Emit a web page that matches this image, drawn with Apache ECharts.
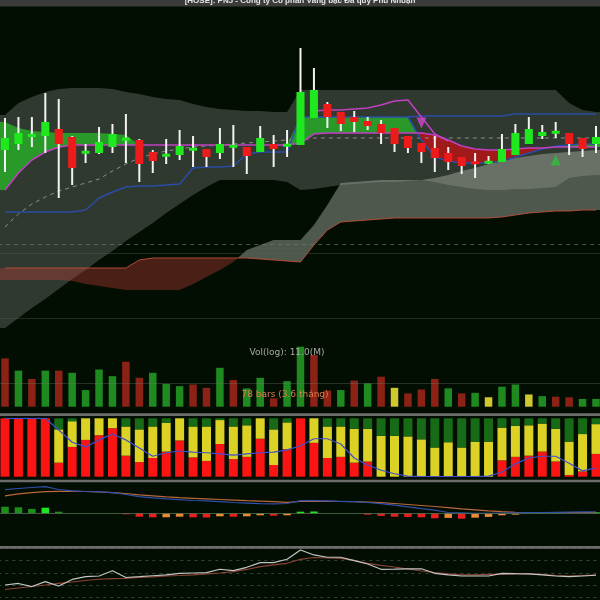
<!DOCTYPE html>
<html>
<head>
<meta charset="utf-8">
<script src="https://cdn.jsdelivr.net/npm/echarts@6/dist/echarts.min.js"></script>
<style>
html, body { margin: 0; padding: 0; background: #030e03; }
#chart { width: 600px; height: 600px; }
</style>
</head>
<body>
<div id="chart"></div>
<script>
// ---- data (price in thousand VND, volume in M) ----
const categories = Array.from({ length: 45 }, (_, i) => 'P' + (i + 1));

const openP  = [82.8, 83.52, 84.36, 84.48, 85.32, 84.36, 82.5, 82.44, 83.16, 84.06, 84, 82.56, 82.14, 82.2, 82.86, 82.92, 82.44, 83.22, 83.16, 82.56, 83.52, 83.34, 83.4, 86.64, 88.32, 87.36, 86.76, 86.28, 85.92, 85.44, 84.48, 83.64, 83.04, 82.44, 81.96, 81.3, 81.3, 81.36, 82.2, 83.52, 84.48, 84.9, 84.84, 84.24, 83.52];
const closeP = [84.24, 84.84, 84.72, 86.16, 83.52, 80.64, 82.56, 83.76, 84.72, 84.12, 81.12, 81.48, 82.2, 83.28, 82.92, 81.96, 83.52, 83.28, 82.08, 84.24, 82.92, 83.4, 89.76, 90, 86.76, 85.92, 86.16, 85.68, 84.84, 83.52, 83.04, 82.56, 81.84, 81.36, 80.88, 81.24, 81.36, 82.92, 84.84, 85.32, 84.96, 84.96, 83.52, 82.92, 84.36];
const lowP   = [80.16, 82.8, 83.16, 82.44, 77.04, 78.6, 81.24, 82.32, 82.44, 81.24, 78.96, 80.04, 81.12, 81.6, 80.76, 80.76, 81.72, 80.76, 79.92, 82.56, 80.76, 81.96, 83.4, 86.64, 85.44, 85.08, 84.96, 85.2, 83.52, 82.56, 82.44, 81.24, 80.16, 80.4, 79.92, 79.44, 81.12, 81.36, 82.2, 83.52, 84.12, 84.24, 82.2, 81.96, 82.44];
const highP  = [86.64, 86.76, 86.76, 89.64, 88.92, 84.48, 83.52, 85.56, 85.92, 87.12, 84.12, 82.8, 84.12, 85.2, 84.48, 82.92, 85.44, 85.8, 83.16, 85.68, 84.6, 85.2, 95.04, 92.64, 88.56, 87.36, 87.48, 86.76, 86.4, 85.44, 84.48, 83.64, 84.48, 83.16, 81.96, 82.44, 82.08, 84.72, 85.92, 86.76, 85.8, 86.16, 84.84, 84.24, 85.68];

// bollinger band
const bbUpper = [87, 88.44, 89.16, 89.76, 90.12, 90.24, 90.24, 90.24, 90.12, 89.76, 89.52, 89.16, 88.92, 88.8, 88.32, 87.96, 87.72, 87.6, 87.48, 87.48, 87.36, 87.36, 90, 90, 90, 90, 90, 90, 90, 90, 90, 90, 90, 90, 90, 90, 90, 90, 90, 90, 90, 90, 88.44, 87.6, 87.36];
const bbLower = [61.44, 62.64, 63.84, 64.92, 66.12, 67.32, 68.4, 69.6, 70.68, 71.88, 72.96, 74.04, 75.24, 76.32, 77.4, 78.36, 79.2, 79.2, 79.2, 79.2, 79.2, 78.96, 78, 78.12, 78.36, 78.6, 78.72, 78.84, 78.96, 78.96, 79.08, 79.2, 78.96, 78.6, 78.36, 78.12, 78, 78, 78.12, 78.12, 78.24, 78.36, 79.44, 79.68, 79.8];

// ichimoku cloud
const spanA = [67.2, 67.2, 67.2, 67.2, 67.2, 67.08, 66.72, 66.48, 66.24, 66, 66, 66, 66, 66, 66.72, 67.56, 68.4, 69.36, 70.8, 71.4, 72, 72, 72, 73.8, 76.2, 78.84, 78.96, 79.08, 79.2, 79.2, 79.2, 79.2, 79.44, 79.8, 80.28, 80.64, 81.12, 81.48, 81.84, 82.08, 82.32, 82.44, 82.56, 82.68, 82.8];
const spanB = [68.64, 68.64, 68.64, 68.64, 68.64, 68.64, 68.64, 68.64, 68.64, 68.64, 69.6, 69.84, 69.84, 69.84, 69.84, 69.84, 69.84, 69.84, 69.84, 69.72, 69.6, 69.48, 69.36, 71.4, 73.2, 74.16, 74.28, 74.4, 74.52, 74.64, 74.64, 74.64, 74.64, 74.64, 74.64, 74.64, 74.64, 74.76, 75, 75.24, 75.36, 75.48, 75.48, 75.6, 75.6];

// fast / slow lines
const fastLine = [86.16, 85.44, 85.08, 84.96, 84.84, 84.84, 84.84, 84.84, 84.72, 84.6, 83.4, 83.4, 83.4, 83.4, 83.4, 83.4, 83.4, 83.4, 83.4, 83.4, 83.4, 83.4, 86.76, 86.76, 86.76, 86.76, 86.76, 86.76, 86.76, 86.76, 86.76, 84, 81.96, 81.48, 81.24, 81.24, 81.24, 81.48, 81.96, 82.44, 82.92, 83.28, 83.4, 83.52, 83.52];
const slowLine = [78, 80.04, 81.6, 82.56, 83.16, 83.4, 83.4, 83.4, 83.4, 83.4, 83.4, 83.4, 83.4, 83.4, 83.4, 83.4, 83.4, 83.4, 83.4, 83.4, 83.4, 83.4, 83.64, 84.72, 84.84, 84.84, 84.84, 84.84, 84.84, 84.84, 84.84, 84.84, 84.6, 84, 83.28, 82.92, 82.8, 82.8, 82.92, 83.04, 83.04, 83.16, 83.16, 83.16, 83.16];
const upperSignal = [null, null, null, null, null, null, null, null, null, null, null, null, null, null, null, null, null, null, null, null, null, null, null, 87.48, 87.6, 87.6, 87.72, 87.84, 88.2, 88.68, 88.8, 86.76, 84.72, 83.88, null, null, null, null, null, null, null, null, null, null, null];
const baseLine = [75.36, 75.36, 75.36, 75.36, 75.36, 75.36, 75.6, 77.04, 77.76, 78.36, 78.48, 78.48, 78.6, 78.72, 80.64, 80.76, 80.76, 80.88, 82.32, 82.56, 82.56, 82.56, 86.76, 86.76, 86.76, 86.76, 86.76, 86.76, 86.76, 86.76, 86.76, 86.88, 86.88, 86.88, 86.88, 86.88, 86.88, 86.88, 87.12, 87.12, 87.12, 87.12, 87.12, 87.12, 87.12];
const maLine = [73.56, 75.12, 76.32, 77.16, 77.88, 78.36, 78.84, 79.32, 80.28, 81.12, 81.84, 82.32, 82.68, 82.92, 83.16, 83.28, 83.4, 83.52, 83.64, 83.76, 83.88, 84, 84, 84.24, 84.24, 84.24, 84.24, 84.24, 84.24, 84.24, 84.24, 84.24, 84.24, 84.24, 84.24, 84.24, 84.24, 84.24, 84.24, 84.24, 84.24, 84.24, 84.24, 84.24, 84.24];
const sellSignals = [[31, 86.04]];
const buySignals = [[41, 81.6]];
const guideLevels = [71.52, 70.44, 62.64];

// volume (M), tone: u = up, d = down, n = neutral
const volume = [8.7, 6.5, 5.0, 6.5, 6.5, 6.1, 3.0, 6.7, 5.5, 8.1, 5.2, 6.1, 4.1, 3.7, 4.0, 3.4, 7.0, 4.8, 3.3, 5.2, 1.5, 4.6, 10.8, 9.3, 2.9, 3.0, 4.7, 4.2, 5.4, 3.4, 2.4, 3.1, 5.0, 3.3, 2.4, 2.5, 1.7, 3.6, 4.0, 2.2, 1.9, 1.8, 1.7, 1.4, 1.4];
const volTone = ['d', 'u', 'd', 'u', 'd', 'u', 'u', 'u', 'u', 'd', 'd', 'u', 'u', 'u', 'd', 'd', 'u', 'd', 'u', 'u', 'd', 'u', 'u', 'd', 'd', 'u', 'd', 'u', 'd', 'n', 'd', 'd', 'd', 'u', 'd', 'u', 'n', 'u', 'u', 'n', 'u', 'd', 'd', 'u', 'u'];

// money flow split (%)
const flowRed    = [100, 100, 100, 100, 24, 51, 63, 71, 83, 36, 25, 32, 43, 62, 33, 27, 56, 30, 34, 65, 20, 47, 100, 58, 32, 34, 24, 26, 0, 0, 0, 0, 0, 0, 0, 0, 0, 28, 34, 36, 43, 26, 3, 9, 39];
const flowYellow = [0, 0, 0, 0, 57, 44, 37, 29, 17, 50, 56, 54, 49, 38, 53, 59, 41, 56, 54, 35, 61, 46, 0, 42, 54, 52, 58, 56, 70, 70, 69, 64, 50, 59, 50, 60, 60, 56, 53, 52, 48, 56, 57, 64, 51];
const flowGreen  = [0, 0, 0, 0, 19, 5, 0, 0, 0, 14, 19, 14, 8, 0, 14, 14, 3, 14, 12, 0, 19, 7, 0, 0, 14, 14, 18, 18, 30, 30, 31, 36, 50, 41, 50, 40, 40, 16, 13, 12, 9, 18, 40, 27, 10];
const flowLine   = [100, 100, 100, 100, 80, 59, 51, 63, 73, 63, 49, 35, 41, 44, 42, 41, 39, 37, 39, 41, 42, 46, 53, 65, 65, 56, 32, 20, 11, 5, 1, 0, 0, 0, 0, 0, 1, 8, 22, 32, 35, 35, 23, 10, 15];

// MACD
const macd   = [1.18, 1.24, 1.29, 1.33, 1.19, 1.12, 1.09, 1.07, 1.03, 0.94, 0.83, 0.77, 0.72, 0.68, 0.64, 0.62, 0.58, 0.54, 0.51, 0.48, 0.47, 0.49, 0.63, 0.63, 0.62, 0.60, 0.58, 0.54, 0.48, 0.41, 0.32, 0.23, 0.16, 0.04, 0.02, 0, 0, 0.01, 0.02, 0.03, 0.04, 0.05, 0.06, 0.07, 0.07];
const signal = [0.87, 0.97, 1.03, 1.08, 1.10, 1.10, 1.09, 1.07, 1.03, 0.99, 0.92, 0.87, 0.82, 0.78, 0.75, 0.72, 0.69, 0.66, 0.63, 0.61, 0.58, 0.55, 0.59, 0.60, 0.60, 0.59, 0.58, 0.56, 0.53, 0.49, 0.44, 0.39, 0.34, 0.28, 0.22, 0.17, 0.12, 0.08, 0.05, 0.03, 0.03, 0.03, 0.03, 0.03, 0.03];
const hist   = [0.33, 0.30, 0.22, 0.28, 0.08, 0, 0, 0, 0, -0.05, -0.17, -0.20, -0.20, -0.17, -0.20, -0.21, -0.15, -0.17, -0.15, -0.10, -0.12, -0.10, 0.08, 0.09, 0, 0, 0, -0.07, -0.13, -0.17, -0.18, -0.20, -0.25, -0.23, -0.27, -0.22, -0.18, -0.10, -0.07, 0, 0.05, 0.05, 0, 0, 0.05];

// RSI
const rsi    = [40.5, 43, 38, 45.9, 38.9, 49.5, 54, 55.1, 63.7, 52.7, 54, 55.5, 56.8, 59.5, 60, 60.5, 66, 63.7, 69.2, 76.7, 76.7, 82.2, 97.3, 89.2, 85.5, 85.5, 79.9, 74.6, 66, 66.2, 66.5, 66.8, 59.5, 56.8, 55.1, 55.1, 55.1, 59.5, 58.9, 58.4, 56.8, 55.1, 54, 55.1, 56.3];
const rsiMa  = [33.2, 35.7, 38.1, 40.5, 43, 45.4, 47.8, 49.8, 50.8, 51.4, 52.7, 53.8, 55.1, 55.9, 56.8, 58.4, 60, 62.1, 65.7, 70.2, 73, 75.7, 82.2, 85.1, 84.3, 83.8, 80.3, 75.7, 72.2, 69.7, 66.5, 63.2, 60.8, 58.4, 56.8, 56.8, 57.6, 57.9, 58.4, 58.4, 57.6, 55.9, 55.1, 55.9, 56.8];

// ---- chart ----
const chart = echarts.init(document.getElementById('chart'));

function poly(points, color) {
    return { type: 'polygon', shape: { points: points }, style: { fill: color } };
}

// filled band between two lines, colour by which one is on top
function bandSeries(a, b, colUp, colDown, z) {
    return {
        type: 'custom', xAxisIndex: 0, yAxisIndex: 0, z: z, silent: true,
        data: a.map((v, i) => [i, v, b[i]]),
        encode: { x: 0, y: [1, 2] },
        renderItem: function (params, api) {
            if (params.dataIndex !== 0) return;
            const half = api.size([1, 0])[0] / 2;
            const n = a.length;
            let A = a.map((v, i) => api.coord([i, v]));
            let B = b.map((v, i) => api.coord([i, v]));
            // carry the band out to the pane edges
            A = [[A[0][0] - half, A[0][1]]].concat(A, [[A[n - 1][0] + half, A[n - 1][1]]]);
            B = [[B[0][0] - half, B[0][1]]].concat(B, [[B[n - 1][0] + half, B[n - 1][1]]]);
            const raw = a.map((v, i) => v - b[i]);
            const d = [raw[0]].concat(raw, [raw[n - 1]]);
            const children = [];
            let sign = d[0] >= 0;
            let top = [A[0]], bot = [B[0]];
            for (let i = 0; i < A.length - 1; i++) {
                if ((d[i] > 0 && d[i + 1] < 0) || (d[i] < 0 && d[i + 1] > 0)) {
                    const t = d[i] / (d[i] - d[i + 1]);
                    const c = [A[i][0] + (A[i + 1][0] - A[i][0]) * t, A[i][1] + (A[i + 1][1] - A[i][1]) * t];
                    top.push(c);
                    children.push(poly(top.concat(bot.slice().reverse()), sign ? colUp : colDown));
                    sign = d[i + 1] > 0;
                    top = [c, A[i + 1]];
                    bot = [c, B[i + 1]];
                } else {
                    top.push(A[i + 1]);
                    bot.push(B[i + 1]);
                }
            }
            children.push(poly(top.concat(bot.slice().reverse()), sign ? colUp : colDown));
            return { type: 'group', children: children };
        }
    };
}

function lineSeries(data, color, width, z, dashed) {
    return {
        type: 'line', xAxisIndex: 0, yAxisIndex: 0, data: data, z: z,
        showSymbol: false, silent: true, connectNulls: false,
        lineStyle: { color: color, width: width, type: dashed ? [4, 4] : 'solid' }
    };
}

const candleData = openP.map((o, i) => [i, o, closeP[i], lowP[i], highP[i]]);

const xAxes = [0, 1, 2, 3, 4].map(g => ({
    type: 'category', gridIndex: g, data: categories, boundaryGap: true, show: false
}));

function hiddenY(g, min, max, extra) {
    return Object.assign({
        type: 'value', gridIndex: g, min: min, max: max, scale: false,
        axisLine: { show: false }, axisTick: { show: false }, axisLabel: { show: false },
        splitLine: { show: false }
    }, extra || {});
}

const gridBase = { left: -1.7, right: -2.7, outerBoundsMode: 'none', containLabel: false };

const option = {
    backgroundColor: '#030e03',
    animation: false,
    grid: [
        Object.assign({ top: 6.67, height: 333.33 }, gridBase),
        Object.assign({ top: 342, height: 64.7 }, gridBase),
        Object.assign({ top: 418.3, height: 58.4 }, gridBase),
        Object.assign({ top: 483, height: 63 }, gridBase),
        Object.assign({ top: 548.3, height: 61.7 }, gridBase)
    ],
    xAxis: xAxes,
    yAxis: [
        hiddenY(0, 60, 100),
        hiddenY(1, 0, 11.65),
        hiddenY(2, 0, 100),
        hiddenY(3, -1.635, 1.515),
        hiddenY(4, 0, 100, {
            interval: 20,
            splitLine: { show: true, lineStyle: { color: 'rgba(95,110,95,0.55)', type: [3, 4], width: 1 } }
        })
    ],
    series: [
        // bands
        bandSeries(bbUpper, bbLower, 'rgba(190,195,188,0.24)', 'rgba(190,195,188,0.24)', 1),
        bandSeries(spanA, spanB, 'rgba(185,190,182,0.42)', 'rgba(190,60,55,0.38)', 2),
        bandSeries(fastLine, slowLine, 'rgba(40,170,40,0.85)', 'rgba(175,22,22,0.88)', 3),
        // lines
        lineSeries(spanB, 'rgba(190,80,60,0.9)', 1, 4),
        Object.assign(lineSeries(maLine, 'rgba(170,170,170,0.75)', 1, 4, true), {
            markLine: {
                silent: true, symbol: 'none', label: { show: false },
                data: [
                    { yAxis: guideLevels[0], lineStyle: { color: 'rgba(120,125,120,0.6)', type: [4, 4], width: 1 } },
                    { yAxis: guideLevels[1], lineStyle: { color: 'rgba(90,100,90,0.35)', type: 'solid', width: 1 } },
                    { yAxis: guideLevels[2], lineStyle: { color: 'rgba(90,100,90,0.35)', type: 'solid', width: 1 } }
                ]
            }
        }),
        lineSeries(baseLine, '#2b4ca6', 1.5, 5),
        lineSeries(fastLine.map((v, i) => (i >= 30 ? v : null)), '#2b4ca6', 1.5, 5),
        lineSeries(slowLine, '#c23fc2', 1.5, 6),
        lineSeries(upperSignal, '#c23fc2', 1.5, 6),
        // candles
        {
            type: 'custom', xAxisIndex: 0, yAxisIndex: 0, z: 8, silent: true,
            data: candleData,
            encode: { x: 0, y: [1, 2, 3, 4] },
            renderItem: function (params, api) {
                const i = api.value(0);
                const o = api.value(1), c = api.value(2), l = api.value(3), h = api.value(4);
                const pH = api.coord([i, h]), pL = api.coord([i, l]);
                const pO = api.coord([i, o]), pC = api.coord([i, c]);
                const w = api.size([1, 0])[0] * 0.6;
                let y0 = Math.min(pO[1], pC[1]);
                let bh = Math.abs(pO[1] - pC[1]);
                if (bh < 3) { y0 = (pO[1] + pC[1]) / 2 - 1.5; bh = 3; }
                return {
                    type: 'group', children: [
                        { type: 'line', shape: { x1: pH[0], y1: pH[1], x2: pL[0], y2: pL[1] }, style: { stroke: '#f2f2f2', lineWidth: 2 } },
                        { type: 'rect', shape: { x: pH[0] - w / 2, y: y0, width: w, height: bh }, style: { fill: c >= o ? '#1fe81f' : '#ee1b1b' } }
                    ]
                };
            }
        },
        {
            type: 'scatter', xAxisIndex: 0, yAxisIndex: 0, z: 9, silent: true,
            data: sellSignals, symbol: 'triangle', symbolRotate: 180, symbolSize: [10, 11],
            itemStyle: { color: '#d045d0' }
        },
        {
            type: 'scatter', xAxisIndex: 0, yAxisIndex: 0, z: 9, silent: true,
            data: buySignals, symbol: 'triangle', symbolSize: [10, 11],
            itemStyle: { color: '#2fbf3a' }
        },
        // volume
        {
            type: 'bar', xAxisIndex: 1, yAxisIndex: 1, data: volume, barWidth: 7.5, silent: true,
            itemStyle: {
                color: function (p) {
                    const t = volTone[p.dataIndex];
                    return t === 'u' ? '#1f8a1f' : (t === 'd' ? '#8c2216' : '#cfc92e');
                }
            },
            markLine: {
                silent: true, symbol: 'none', label: { show: false },
                data: [{ yAxis: 4.2 }],
                lineStyle: { color: 'rgba(110,120,110,0.35)', type: 'solid', width: 1 }
            }
        },
        // money flow
        { type: 'bar', xAxisIndex: 2, yAxisIndex: 2, stack: 'flow', data: flowRed, barWidth: 9, silent: true, itemStyle: { color: '#fa1414' } },
        { type: 'bar', xAxisIndex: 2, yAxisIndex: 2, stack: 'flow', data: flowYellow, barWidth: 9, silent: true, itemStyle: { color: '#dcd226' } },
        { type: 'bar', xAxisIndex: 2, yAxisIndex: 2, stack: 'flow', data: flowGreen, barWidth: 9, silent: true, itemStyle: { color: '#176b17' } },
        {
            type: 'line', xAxisIndex: 2, yAxisIndex: 2, data: flowLine, showSymbol: false, silent: true, z: 5,
            lineStyle: { color: '#3f4fd0', width: 1.2 }
        },
        // MACD
        {
            type: 'bar', xAxisIndex: 3, yAxisIndex: 3, data: hist, barWidth: 7.5, silent: true,
            itemStyle: {
                color: function (p) {
                    const v = hist[p.dataIndex];
                    const prev = p.dataIndex > 0 ? hist[p.dataIndex - 1] : v;
                    if (v >= 0) return v > prev ? '#22e622' : '#1d8f1d';
                    return v < prev ? '#e82020' : '#e88a36';
                }
            },
            markLine: {
                silent: true, symbol: 'none', label: { show: false },
                data: [{ yAxis: 0 }],
                lineStyle: { color: 'rgba(80,110,80,0.8)', type: 'solid', width: 1 }
            }
        },
        {
            type: 'line', xAxisIndex: 3, yAxisIndex: 3, data: signal, showSymbol: false, silent: true,
            lineStyle: { color: '#b8683a', width: 1.2 }
        },
        {
            type: 'line', xAxisIndex: 3, yAxisIndex: 3, data: macd, showSymbol: false, silent: true,
            lineStyle: { color: '#2f4fa8', width: 1.2 }
        },
        // RSI
        {
            type: 'line', xAxisIndex: 4, yAxisIndex: 4, data: rsiMa, showSymbol: false, silent: true,
            lineStyle: { color: '#8a4535', width: 1.2 }
        },
        {
            type: 'line', xAxisIndex: 4, yAxisIndex: 4, data: rsi, showSymbol: false, silent: true,
            lineStyle: { color: '#c4c4c4', width: 1.2 }
        }
    ],
    graphic: [
        { type: 'rect', left: 0, top: 0, shape: { width: 600, height: 6.5 }, style: { fill: '#3b3b3b' }, z: 100 },
        {
            type: 'text', x: 300, y: 5, z: 101,
            style: {
                text: '[HOSE]: PNJ - Công ty Cổ phần Vàng bạc Đá quý Phú Nhuận',
                fill: '#e6e6e6', font: 'bold 8px "Liberation Sans"',
                align: 'center', verticalAlign: 'bottom', textAlign: 'center', textVerticalAlign: 'bottom'
            }
        },
        { type: 'rect', left: 0, top: 413.3, shape: { width: 600, height: 2.7 }, style: { fill: '#6c6c6c' }, z: 100 },
        { type: 'rect', left: 0, top: 479.7, shape: { width: 600, height: 2.6 }, style: { fill: '#6c6c6c' }, z: 100 },
        { type: 'rect', left: 0, top: 546, shape: { width: 600, height: 2.7 }, style: { fill: '#6c6c6c' }, z: 100 },
        {
            type: 'text', x: 287, y: 352.5, z: 101,
            style: {
                text: 'Vol(log): 11.0(M)', fill: '#a9a9a9', font: '9px "DejaVu Sans"',
                align: 'center', verticalAlign: 'middle', textAlign: 'center', textVerticalAlign: 'middle'
            }
        },
        {
            type: 'text', x: 285, y: 394.5, z: 101,
            style: {
                text: '78 bars (3.6 tháng)', fill: '#dc7c4c', font: '9px "DejaVu Sans"',
                align: 'center', verticalAlign: 'middle', textAlign: 'center', textVerticalAlign: 'middle'
            }
        }
    ]
};

chart.setOption(option);
window.addEventListener('resize', () => chart.resize());
</script>
</body>
</html>
